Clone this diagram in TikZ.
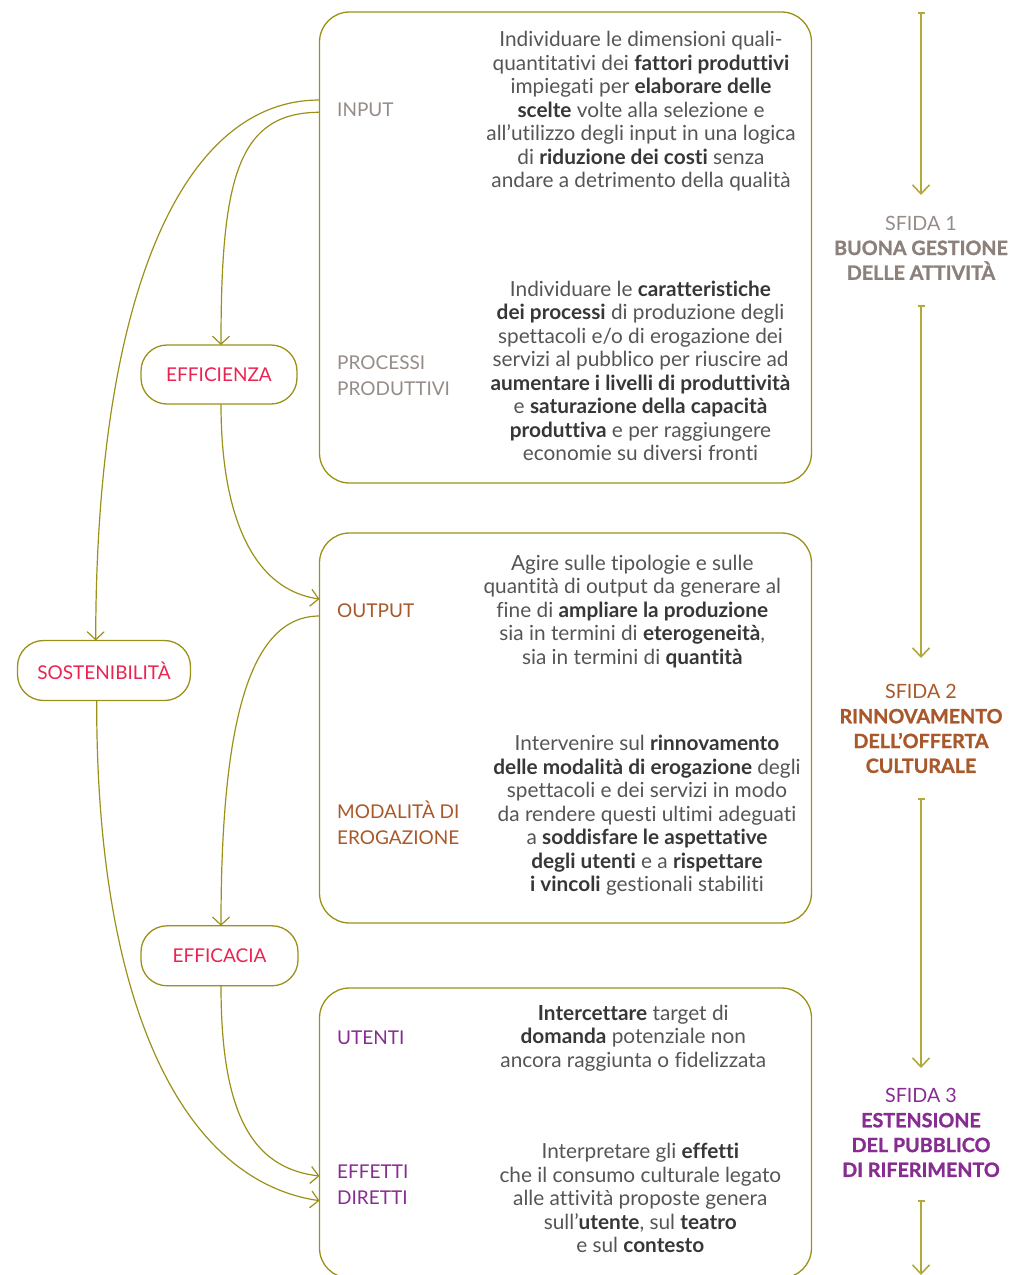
\documentclass[tikz,border=0pt]{standalone}
\usepackage{fontspec}
\setmainfont{Lato}[Ligatures={NoCommon}]
\newfontfamily\headfont{Lato}[Ligatures={NoCommon}, BoldFeatures={FakeBold=1.2}]
\usetikzlibrary{arrows.meta,calc}
\definecolor{lineol}{RGB}{155,145,25}
\definecolor{lineyel}{RGB}{178,168,60}
\definecolor{graylab}{RGB}{150,140,135}
\definecolor{grayhead}{RGB}{140,128,122}
\definecolor{brownlab}{RGB}{168,88,42}
\definecolor{purplelab}{RGB}{135,45,145}
\definecolor{pinklab}{RGB}{235,35,80}
\definecolor{bodygray}{RGB}{85,85,85}
\definecolor{bodydark}{RGB}{55,55,55}
\newcommand{\mybf}[1]{{\bfseries\color{bodydark}#1}}
\newcommand{\myhead}[1]{{\headfont\bfseries #1}}
\newcommand{\topstrut}{\rule{0pt}{16pt}}
\begin{document}
\begin{tikzpicture}[x=1pt,y=-1pt,
  conn/.style={draw=lineol, line width=1.2pt, -{Straight Barb[length=8pt,width=17pt]}},
  flow/.style={draw=lineyel, line width=1.6pt, {Bar[width=7pt]}-{Straight Barb[length=9pt,width=17pt]}},
  bigbox/.style={draw=lineol, line width=1.3pt, rounded corners=30pt, outer sep=0pt, inner sep=0pt},
  pill/.style={draw=lineol, line width=1.3pt, rounded corners=26pt, outer sep=0pt, inner sep=0pt, text=pinklab, font=\fontsize{19}{21}\selectfont},
  body/.style={align=center, inner sep=0pt, anchor=north, text=bodygray, font=\fontsize{20.8}{23.5}\selectfont},
  lab/.style={align=left, inner sep=0pt, anchor=north west, font=\fontsize{19}{25.5}\selectfont},
  sfida/.style={align=center, inner sep=0pt, anchor=north, font=\fontsize{19.7}{24.8}\selectfont}
]
\useasboundingbox (0,0) rectangle (1013,1275);

% big boxes
\node[bigbox, minimum width=492, minimum height=471] (box1) at (565.5,247.5) {};
\node[bigbox, minimum width=492, minimum height=390] (box2) at (565.5,728) {};
\node[bigbox, minimum width=492, minimum height=290] (box3) at (565.5,1133) {};

% left nodes
\node[pill, minimum width=156, minimum height=59] (eff) at (219,374.5) {EFFICIENZA};
\node[pill, minimum width=173, minimum height=60] (sost) at (104,670.5) {SOSTENIBILITÀ};
\node[pill, minimum width=157, minimum height=60] (effc) at (219.5,955.8) {EFFICACIA};

% labels
\node[lab, text=graylab] (lin) at (337,100) {\topstrut INPUT};
\node[lab, text=graylab] (lproc) at (337,353.3) {\topstrut PROCESSI\\PRODUTTIVI};
\node[lab, text=brownlab] (lout) at (337,601.3) {\topstrut OUTPUT};
\node[lab, text=brownlab] (lmod) at (337,800.7) {\topstrut MODALITÀ DI\\EROGAZIONE};
\node[lab, text=purplelab] (lute) at (337,1028.3) {\topstrut UTENTI};
\node[lab, text=purplelab] (leff) at (337,1162.3) {\topstrut EFFETTI\\DIRETTI};

% body texts
\node[body] (t1) at (641,30.5) {\topstrut Individuare le dimensioni quali-\\
quantitativi dei \mybf{fattori produttivi}\\
impiegati per \mybf{elaborare delle}\\
\mybf{scelte} volte alla selezione e\\
all’utilizzo degli input in una logica\\
di \mybf{riduzione dei costi} senza\\
andare a detrimento della qualità};

\node[body] (t2) at (640.5,280) {\topstrut Individuare le \mybf{caratteristiche}\\
\mybf{dei processi} di produzione degli\\
spettacoli e/o di erogazione dei\\
servizi al pubblico per riuscire ad\\
\mybf{aumentare i livelli di produttività}\\
e \mybf{saturazione della capacità}\\
\mybf{produttiva} e per raggiungere\\
economie su diversi fronti};

\node[body] (t3) at (632.3,554) {\topstrut Agire sulle tipologie e sulle\\
quantità di output da generare al\\
fine di \mybf{ampliare la produzione}\\
sia in termini di \mybf{eterogeneità},\\
sia in termini di \mybf{quantità}};

\node[body] (t4) at (647,734.7) {\topstrut Intervenire sul \mybf{rinnovamento}\\
\mybf{delle modalità di erogazione} degli\\
spettacoli e dei servizi in modo\\
da rendere questi ultimi adeguati\\
a \mybf{soddisfare le aspettative}\\
\mybf{degli utenti} e a \mybf{rispettare}\\
\mybf{i vincoli} gestionali stabiliti};

\node[body] (t5) at (633.3,1004) {\topstrut\mybf{Intercettare} target di\\
\mybf{domanda} potenziale non\\
ancora raggiunta o fidelizzata};

\node[body] (t6) at (640.3,1142.3) {\topstrut Interpretare gli \mybf{effetti}\\
che il consumo culturale legato\\
alle attività proposte genera\\
sull’\mybf{utente}, sul \mybf{teatro}\\
e sul \mybf{contesto}};

% right column
\node[sfida, text=graylab] (s1) at (921,214) {\topstrut SFIDA 1\\{\color{grayhead}\myhead{BUONA GESTIONE}}\\{\color{grayhead}\myhead{DELLE ATTIVITÀ}}};
\node[sfida, text=brownlab] (s2) at (921,682.3) {\topstrut SFIDA 2\\\myhead{RINNOVAMENTO}\\\myhead{DELL’OFFERTA}\\\myhead{CULTURALE}};
\node[sfida, text=purplelab] (s3) at (921,1086.3) {\topstrut SFIDA 3\\\myhead{ESTENSIONE}\\\myhead{DEL PUBBLICO}\\\myhead{DI RIFERIMENTO}};

\coordinate (r1a) at (921,12);
\coordinate (r1b) at (921,195);
\coordinate (r2a) at (921,305);
\coordinate (r2b) at (921,658);
\coordinate (r3a) at (921,798);
\coordinate (r3b) at (921,1068);
\coordinate (r4a) at (921,1200);
\coordinate (r4b) at (921,1275);
\draw[flow] (r1a) -- (r1b);
\draw[flow] (r2a) -- (r2b);
\draw[flow] (r3a) -- (r3b);
\draw[flow] (r4a) -- (r4b);

% connectors
\coordinate (p1) at (box1.west |- 0,100);
\coordinate (p2) at (box1.west |- 0,112.3);
\coordinate (p3) at (box2.west |- 0,599);
\coordinate (p4) at (box2.west |- 0,616);
\coordinate (p5) at (box3.west |- 0,1176);
\coordinate (p6) at (box3.west |- 0,1200.7);

\draw[conn] (p1) .. controls (180,100) and (96,300) .. ([xshift=-8.3pt]sost.north);
\draw[conn] (p2) .. controls (237,112.3) and (221,180) .. ([xshift=2pt]eff.north);
\draw[conn] ([xshift=2pt]eff.south) .. controls (221,520) and (255,590) .. (p3);
\draw[conn] (p4) .. controls (250,616) and (221,720) .. ([xshift=1.5pt]effc.north);
\draw[conn] ([xshift=1.5pt]effc.south) .. controls (221,1110) and (250,1168) .. (p5);
\draw[conn] ([xshift=-7.3pt]sost.south) .. controls (96,1000) and (180,1180) .. (p6);
\end{tikzpicture}
\end{document}
